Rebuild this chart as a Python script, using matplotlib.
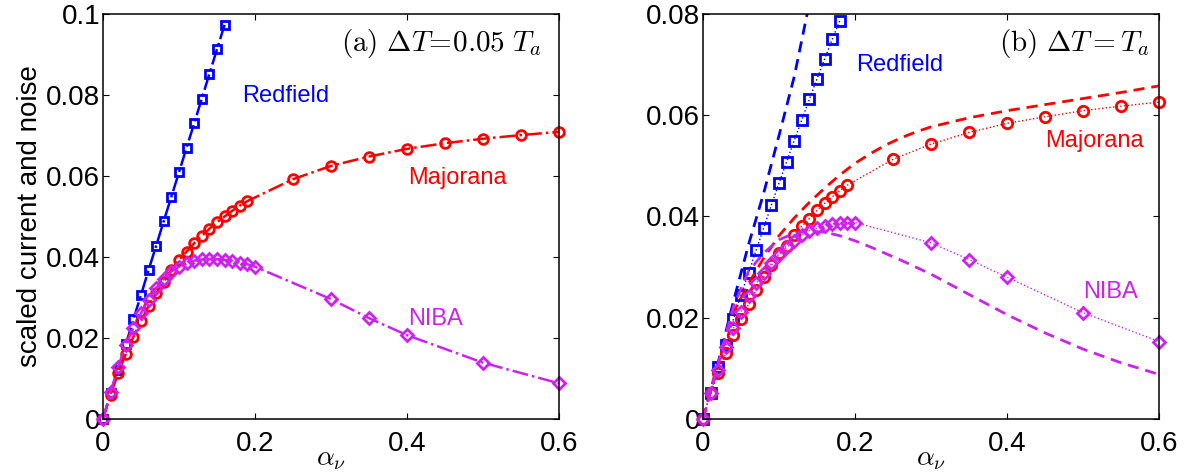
import matplotlib

matplotlib.use("Agg")
import matplotlib.pyplot as plt
from matplotlib.ticker import FuncFormatter

plt.rcParams["font.family"] = ["Liberation Sans", "DejaVu Sans"]
plt.rcParams["mathtext.fontset"] = "cm"

BLUE = "#0000ff"
RED = "#ff0000"
PURPLE = "#cc22ee"

# panel (a): dT = 0.05 Ta
alpha_fine = [i / 100 for i in range(0, 21)]
a_redfield_x = alpha_fine[:17]
a_redfield_y = [0.0, 0.0063, 0.0121, 0.0184, 0.0246, 0.0306, 0.0368, 0.0428, 0.0489,
                0.0549, 0.0609, 0.0670, 0.0730, 0.0791, 0.0852, 0.0913, 0.0973]
a_majorana_x = alpha_fine[:20] + [0.25, 0.3, 0.35, 0.4, 0.45, 0.5, 0.55, 0.6]
a_majorana_y = [0.0, 0.0060, 0.0113, 0.0160, 0.0203, 0.0242, 0.0279, 0.0310, 0.0339,
                0.0368, 0.0393, 0.0413, 0.0434, 0.0452, 0.0470, 0.0486, 0.0500, 0.0514,
                0.0527, 0.0538, 0.0592, 0.0625, 0.0648, 0.0667, 0.0681, 0.0692, 0.0701,
                0.0709]
a_niba_x = alpha_fine + [0.3, 0.35, 0.4, 0.5, 0.6]
a_niba_y = [0.0, 0.0067, 0.0129, 0.0183, 0.0224, 0.0261, 0.0294, 0.0323, 0.0345, 0.0364,
            0.0376, 0.0384, 0.0391, 0.0394, 0.0396, 0.0395, 0.0393, 0.0390, 0.0386,
            0.0382, 0.0376, 0.0296, 0.0249, 0.0207, 0.0139, 0.0088]

# panel (b): dT = Ta, markers
b_redfield_x = alpha_fine[:19]
b_redfield_y = [0.0, 0.0052, 0.0103, 0.0146, 0.0197, 0.0245, 0.0289, 0.0334, 0.0378,
                0.0423, 0.0466, 0.0508, 0.0550, 0.0591, 0.0632, 0.0672, 0.0711, 0.0750,
                0.0787]
b_majorana_x = alpha_fine[:20] + [0.25, 0.3, 0.35, 0.4, 0.45, 0.5, 0.55, 0.6]
b_majorana_y = [0.0, 0.0051, 0.0090, 0.0130, 0.0166, 0.0198, 0.0227, 0.0255, 0.0281,
                0.0304, 0.0327, 0.0342, 0.0363, 0.0381, 0.0396, 0.0412, 0.0426, 0.0439,
                0.0451, 0.0462, 0.0513, 0.0543, 0.0566, 0.0584, 0.0597, 0.0609, 0.0618,
                0.0626]
b_niba_x = alpha_fine + [0.3, 0.35, 0.4, 0.5, 0.6]
b_niba_y = [0.0, 0.0051, 0.0097, 0.0143, 0.0179, 0.0212, 0.0242, 0.0268, 0.0289, 0.0308,
            0.0324, 0.0339, 0.0352, 0.0363, 0.0372, 0.0377, 0.0381, 0.0385, 0.0387,
            0.0388, 0.0388, 0.0348, 0.0315, 0.0280, 0.0210, 0.0153]

# panel (b): dashed curves
b_redfield_curve_x = [0.0, 0.02, 0.04, 0.06, 0.08, 0.10, 0.12, 0.14]
b_redfield_curve_y = [0.0, 0.0112, 0.0232, 0.0345, 0.0447, 0.0560, 0.0676, 0.0822]
curve_x = [0.0, 0.02, 0.04, 0.06, 0.08, 0.10, 0.12, 0.14, 0.16, 0.18, 0.20, 0.22,
           0.24, 0.26, 0.28, 0.30, 0.35, 0.40, 0.45, 0.50, 0.55, 0.60]
b_majorana_curve_y = [0.0, 0.0110, 0.0210, 0.0268, 0.0318, 0.0362, 0.0397, 0.0428,
                      0.0456, 0.0482, 0.0505, 0.0524, 0.0541, 0.0555, 0.0567, 0.0577,
                      0.0595, 0.0609, 0.0621, 0.0633, 0.0645, 0.0658]
b_niba_curve_y = [0.0, 0.0110, 0.0222, 0.0292, 0.0328, 0.0354, 0.0367, 0.0371, 0.0369,
                  0.0362, 0.0352, 0.0340, 0.0327, 0.0314, 0.0300, 0.0286, 0.0246,
                  0.0206, 0.0170, 0.0138, 0.0111, 0.0088]

x_ticks = [0, 0.2, 0.4, 0.6]
a_y_ticks = [0, 0.02, 0.04, 0.06, 0.08, 0.1]
b_y_ticks = [0, 0.02, 0.04, 0.06, 0.08]

TICK_FONT = 20
LABEL_FONT = 17


def style_axes(ax, y_ticks, y_max):
    ax.set_xlim(0, 0.6)
    ax.set_ylim(0, y_max)
    ax.set_xticks(x_ticks)
    ax.set_yticks(y_ticks)
    fmt = FuncFormatter(lambda v, pos: f"{v:g}")
    ax.xaxis.set_major_formatter(fmt)
    ax.yaxis.set_major_formatter(fmt)
    ax.tick_params(direction="in", top=True, right=True, length=4, width=0.8,
                   labelsize=TICK_FONT)
    ax.tick_params(axis="y", pad=2)
    ax.tick_params(axis="x", pad=9)
    for spine in ax.spines.values():
        spine.set_linewidth(1.1)
    ax.set_xlabel(r"$\alpha_\nu$", fontsize=20, labelpad=-8)


fig = plt.figure(figsize=(11.96, 4.73), dpi=100)
ax_a = fig.add_axes([0.0861, 0.1142, 0.3813, 0.8562])
ax_b = fig.add_axes([0.5878, 0.1142, 0.3813, 0.8562])

marker_kw = dict(markerfacecolor="none", markeredgewidth=2.0, clip_on=False)

ax_a.plot(a_redfield_x, a_redfield_y, "-.s", color=BLUE, lw=1.8, ms=6, **marker_kw)
ax_a.plot(a_majorana_x, a_majorana_y, "-.o", color=RED, lw=1.8, ms=7, **marker_kw)
ax_a.plot(a_niba_x, a_niba_y, "-.D", color=PURPLE, lw=1.8, ms=6, **marker_kw)

ax_b.plot(b_redfield_x, b_redfield_y, ":s", color=BLUE, lw=1.0, ms=6.5, **marker_kw)
ax_b.plot(b_redfield_curve_x, b_redfield_curve_y, "--", color=BLUE,
          lw=2.0, dashes=(4, 2.5))
ax_b.plot(b_majorana_x, b_majorana_y, ":o", color=RED, lw=1.0, ms=7.5, **marker_kw)
ax_b.plot(curve_x, b_majorana_curve_y, "--", color=RED, lw=2.0, dashes=(4, 2.5))
ax_b.plot(b_niba_x, b_niba_y, ":D", color=PURPLE, lw=1.0, ms=6.5, **marker_kw)
ax_b.plot(curve_x, b_niba_curve_y, "--", color=PURPLE, lw=2.0, dashes=(4, 2.5))

style_axes(ax_a, a_y_ticks, 0.1)
style_axes(ax_b, b_y_ticks, 0.08)
ax_a.set_ylabel("scaled current and noise", fontsize=20, labelpad=2)

ax_a.text(0.183, 0.0798, "Redfield", color=BLUE, fontsize=LABEL_FONT, va="center")
ax_a.text(0.401, 0.0596, "Majorana", color=RED, fontsize=LABEL_FONT, va="center")
ax_a.text(0.401, 0.0247, "NIBA", color=PURPLE, fontsize=LABEL_FONT, va="center")
ax_a.text(0.578, 0.0928, r"$\mathrm{(a)}\ \Delta T\!=\!0.05\ T_a$", fontsize=21,
          ha="right", va="center")

ax_b.text(0.201, 0.0700, "Redfield", color=BLUE, fontsize=LABEL_FONT, va="center")
ax_b.text(0.450, 0.0549, "Majorana", color=RED, fontsize=LABEL_FONT, va="center")
ax_b.text(0.500, 0.0250, "NIBA", color=PURPLE, fontsize=LABEL_FONT, va="center")
ax_b.text(0.588, 0.0741, r"$\mathrm{(b)}\ \Delta T = T_a$", fontsize=21,
          ha="right", va="center")

fig.savefig("out.png", dpi=100)
